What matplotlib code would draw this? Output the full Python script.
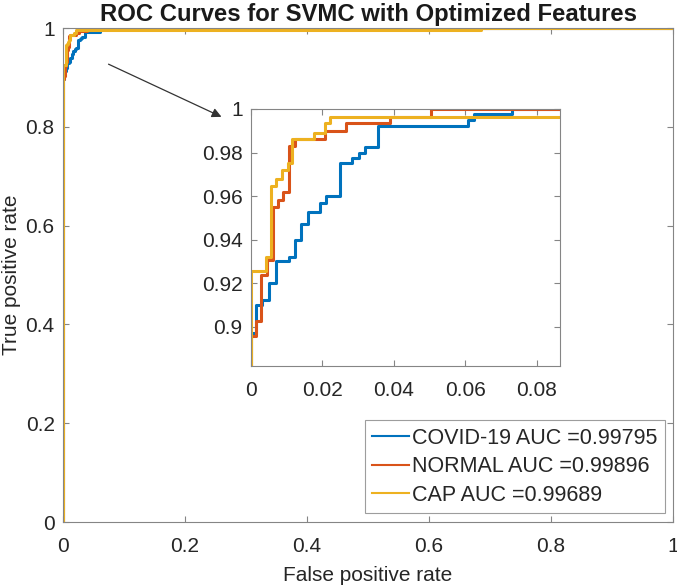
import matplotlib
matplotlib.use("Agg")
import matplotlib.pyplot as plt

plt.rcParams['font.family'] = ['Liberation Sans', 'DejaVu Sans']

# ROC step points (x where the step occurs, new TPR level)
covid_fpr = [0, 0, 0.0015, 0.0030, 0.0051, 0.0070, 0.0106, 0.0122, 0.0141, 0.0160,
             0.0193, 0.0210, 0.0248, 0.0283, 0.0302, 0.0318, 0.0356, 0.0608, 0.0625, 0.0732, 1]
covid_tpr = [0, 0.897, 0.910, 0.9125, 0.920, 0.930, 0.932, 0.940, 0.947, 0.9526,
             0.957, 0.960, 0.975, 0.9776, 0.980, 0.9826, 0.992, 0.995, 0.9976, 1.0, 1.0]

normal_fpr = [0, 0, 0.0013, 0.0028, 0.0046, 0.0061, 0.0075, 0.0089, 0.0106, 0.0122,
              0.0208, 0.0267, 0.0388, 0.0504, 1]
normal_tpr = [0, 0.896, 0.9027, 0.924, 0.9307, 0.955, 0.958, 0.962, 0.983, 0.986,
              0.9897, 0.9935, 0.9965, 1.0, 1.0]

cap_fpr = [0, 0, 0.0042, 0.0056, 0.0070, 0.0087, 0.0103, 0.0116, 0.0176, 0.0208, 0.0220, 0.685, 1]
cap_tpr = [0, 0.9254, 0.932, 0.9648, 0.968, 0.9719, 0.9753, 0.986, 0.989, 0.9935, 0.9965, 1.0, 1.0]

labels = ['COVID-19 AUC =0.99795', 'NORMAL AUC =0.99896', 'CAP AUC =0.99689']
colors = ['#0072BD', '#D95319', '#EDB120']

main_ticks = [0, 0.2, 0.4, 0.6, 0.8, 1]
main_ticklabels = ['0', '0.2', '0.4', '0.6', '0.8', '1']
inset_xticks = [0, 0.02, 0.04, 0.06, 0.08]
inset_xticklabels = ['0', '0.02', '0.04', '0.06', '0.08']
inset_yticks = [0.9, 0.92, 0.94, 0.96, 0.98, 1.0]
inset_yticklabels = ['0.9', '0.92', '0.94', '0.96', '0.98', '1']

series = [(covid_fpr, covid_tpr), (normal_fpr, normal_tpr), (cap_fpr, cap_tpr)]

fig = plt.figure(figsize=(6.77, 5.85), dpi=100)
W, H = 677, 585

def px_axes(l, t, r, b):
    return fig.add_axes([l / W, 1 - b / H, (r - l) / W, (b - t) / H])

spine_col = '#858585'
txt_col = '#262626'

def style(ax, fs):
    for s in ax.spines.values():
        s.set_color(spine_col)
        s.set_linewidth(0.8)
    ax.tick_params(direction='in', top=True, right=True, length=4, width=0.8,
                   color=spine_col, labelcolor=txt_col, labelsize=fs)
    ax.tick_params(axis='x', pad=11)
    ax.tick_params(axis='y', pad=6)

ax = px_axes(63, 28, 673, 522)
for (x, y), c, lab in zip(series, colors, labels):
    ax.step(x, y, where='post', color=c, lw=2.2, label=lab)
ax.set_xlim(0, 1)
ax.set_ylim(0, 1)
ax.set_xticks(main_ticks)
ax.set_xticklabels(main_ticklabels)
ax.set_yticks(main_ticks)
ax.set_yticklabels(main_ticklabels)
style(ax, 15)
ax.set_xlabel('False positive rate', fontsize=15, color=txt_col, labelpad=7)
ax.set_ylabel('True positive rate', fontsize=15, color=txt_col, labelpad=3)
ax.set_title('ROC Curves for SVMC with Optimized Features', fontsize=17.2,
             fontweight='bold', color='#1a1a1a', pad=5)

leg = ax.legend(loc='lower right', bbox_to_anchor=(0.987, 0.018), borderaxespad=0,
                fontsize=15.5, frameon=True, fancybox=False, handlelength=1.72,
                handletextpad=0.14, labelspacing=0.35, borderpad=0.35)
leg.get_frame().set_edgecolor(spine_col)
leg.get_frame().set_linewidth(0.8)
for t in leg.get_texts():
    t.set_color(txt_col)
for lh in leg.get_lines():
    lh.set_linewidth(1.5)

axin = px_axes(251, 109, 560, 366)
for (x, y), c in zip(series, colors):
    axin.step(x, y, where='post', color=c, lw=2.2)
axin.set_xlim(0, 0.0865)
axin.set_ylim(0.882, 1.0)
axin.set_xticks(inset_xticks)
axin.set_xticklabels(inset_xticklabels)
axin.set_yticks(inset_yticks)
axin.set_yticklabels(inset_yticklabels)
style(axin, 15)

fig.add_artist(matplotlib.patches.FancyArrowPatch(
    (106 / W, 1 - 63 / H), (224 / W, 1 - 118 / H), transform=fig.transFigure,
    arrowstyle='-|>', mutation_scale=14, color='#333333', lw=0.9))

fig.savefig('out.png', dpi=100)
